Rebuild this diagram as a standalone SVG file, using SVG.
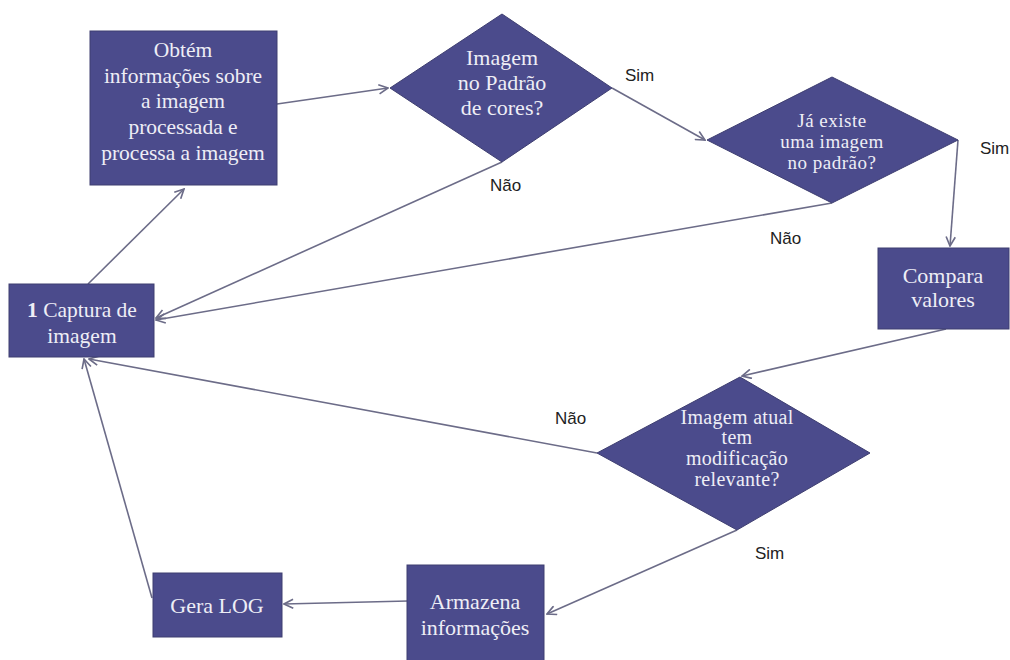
<svg xmlns="http://www.w3.org/2000/svg" width="1010" height="660" viewBox="0 0 1010 660">
<style>
.node{fill:#4b4b8c;stroke:#3e3e70;stroke-width:1}
.t{font-family:"Liberation Serif","DejaVu Serif",serif;fill:#eeeef6;text-anchor:middle}
.lbl{font-family:"Liberation Sans",Arial,sans-serif;font-size:17px;fill:#222}
.c{fill:none;stroke:#6c6c88;stroke-width:1.6;marker-end:url(#a)}
</style>
<defs>
<marker id="a" viewBox="0 0 12 12" refX="11" refY="6" markerWidth="11" markerHeight="11" markerUnits="userSpaceOnUse" orient="auto">
<path d="M1,1 L11,6 L1,11" fill="none" stroke="#6c6c88" stroke-width="1.8"/>
</marker>
</defs>
<rect width="1010" height="660" fill="#ffffff"/>
<g id="connectors">
<line class="c" x1="88" y1="284" x2="184" y2="189"/>
<line class="c" x1="277" y1="104" x2="388" y2="88"/>
<line class="c" x1="612" y1="88" x2="705" y2="140"/>
<line class="c" x1="502" y1="162" x2="156" y2="318"/>
<line class="c" x1="832" y1="203" x2="156" y2="320"/>
<line class="c" x1="958" y1="140" x2="950" y2="246"/>
<line class="c" x1="946" y1="329" x2="742" y2="376"/>
<line class="c" x1="597" y1="453" x2="89" y2="359"/>
<line class="c" x1="737" y1="530" x2="547" y2="614"/>
<line class="c" x1="408" y1="601" x2="284" y2="604"/>
<line class="c" x1="152" y1="598" x2="84" y2="359"/>
</g>
<g id="n_obtem">
<rect class="node" x="90" y="31" width="187" height="154"/>
<text class="t" font-size="21.5"><tspan x="183" y="57">Obtém</tspan><tspan x="183" y="83">informações sobre</tspan><tspan x="183" y="108">a imagem</tspan><tspan x="183" y="134">processada e</tspan><tspan x="183" y="160">processa a imagem</tspan></text>
</g>
<g id="n_padrao_cores">
<polygon class="node" points="502,14 612,88 502,162 390,88"/>
<text class="t" font-size="22"><tspan x="502" y="65">Imagem</tspan><tspan x="502" y="90">no Padrão</tspan><tspan x="502" y="115">de cores?</tspan></text>
</g>
<g id="n_ja_existe">
<polygon class="node" points="832,77 958,140 832,203 707,140"/>
<text class="t" font-size="19" letter-spacing="0.5"><tspan x="832" y="127">Já existe</tspan><tspan x="832" y="148">uma imagem</tspan><tspan x="832" y="169">no padrão?</tspan></text>
</g>
<g id="n_compara">
<rect class="node" x="878" y="248" width="131" height="81"/>
<text class="t" font-size="22"><tspan x="943" y="283">Compara</tspan><tspan x="943" y="307">valores</tspan></text>
</g>
<g id="n_captura">
<rect class="node" x="9" y="284" width="145" height="73"/>
<text class="t" font-size="21.5"><tspan x="82" y="317"><tspan font-weight="bold">1</tspan> Captura de</tspan><tspan x="82" y="343">imagem</tspan></text>
</g>
<g id="n_modificacao">
<polygon class="node" points="740,377 870,453 737,530 597,453"/>
<text class="t" font-size="20" letter-spacing="0.3"><tspan x="737" y="424">Imagem atual</tspan><tspan x="737" y="444">tem</tspan><tspan x="737" y="465">modificação</tspan><tspan x="737" y="486">relevante?</tspan></text>
</g>
<g id="n_armazena">
<rect class="node" x="407" y="565" width="137" height="100"/>
<text class="t" font-size="22"><tspan x="475" y="609">Armazena</tspan><tspan x="475" y="635">informações</tspan></text>
</g>
<g id="n_gera_log">
<rect class="node" x="153" y="573" width="129" height="64"/>
<text class="t" font-size="22"><tspan x="217" y="613">Gera LOG</tspan></text>
</g>
<g id="labels">
<text class="lbl" x="625" y="81">Sim</text>
<text class="lbl" x="490" y="191">Não</text>
<text class="lbl" x="980" y="154">Sim</text>
<text class="lbl" x="770" y="244">Não</text>
<text class="lbl" x="555" y="424">Não</text>
<text class="lbl" x="755" y="559">Sim</text>
</g>
</svg>
